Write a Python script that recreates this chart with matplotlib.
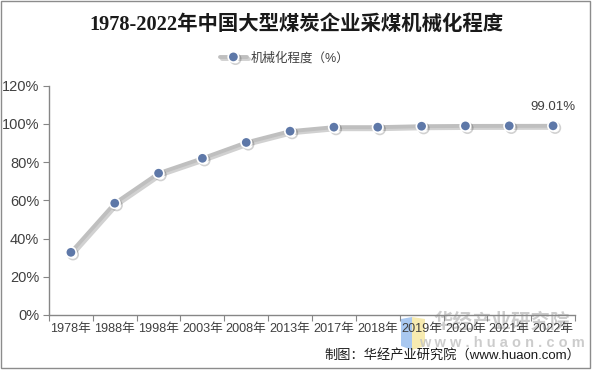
import matplotlib
matplotlib.use("Agg")
import matplotlib.pyplot as plt
import matplotlib.patheffects as pe
from matplotlib.patches import Rectangle, Polygon

years = ["1978年", "1988年", "1998年", "2003年", "2008年", "2013年",
         "2017年", "2018年", "2019年", "2020年", "2021年", "2022年"]
values = [32.8, 58.5, 74.2, 82.0, 90.3, 96.2, 98.3, 98.3, 98.8, 98.95, 98.98, 99.01]
yticks = [0, 20, 40, 60, 80, 100, 120]
ytick_labels = ["0%", "20%", "40%", "60%", "80%", "100%", "120%"]

sans = ["Liberation Sans", "Noto Sans CJK SC", "DejaVu Sans"]
plt.rcParams["font.family"] = sans

W, H = 593, 372


def fx(px):
    return px / W


def fy(py):
    return 1 - py / H


fig = plt.figure(figsize=(W / 100, H / 100), dpi=100)
fig.patch.set_facecolor("white")
fig.patches.append(Rectangle((fx(1), fy(368)), fx(589), 367 / H,
                             transform=fig.transFigure, fill=False,
                             edgecolor="#8c8c8c", linewidth=1.0, zorder=-2))

# watermark logo (behind everything)
fig.patches.append(Polygon([(fx(401), fy(319)), (fx(412), fy(317)), (fx(412), fy(350)), (fx(401), fy(346))],
                           closed=True, transform=fig.transFigure,
                           facecolor="#a9c8f0", edgecolor="none", zorder=-1))
fig.patches.append(Polygon([(fx(412), fy(317)), (fx(425), fy(319)), (fx(425), fy(346)), (fx(412), fy(350))],
                           closed=True, transform=fig.transFigure,
                           facecolor="#f7ebb0", edgecolor="none", zorder=-1))
fig.text(fx(502), fy(322), "华经产业研究院", ha="center", va="center", fontsize=14,
         color="#c4c4c4", alpha=0.85, fontweight="bold", fontstyle="italic", zorder=-1)
fig.text(fx(502), fy(343), "w w w . h u a o n . c o m", ha="center", va="center", fontsize=10.5,
         color="#c4c4c4", alpha=0.85, fontweight="bold", zorder=-1)

ax = fig.add_axes([fx(49), fy(315), (575 - 49) / W, (315 - 85.7) / H])
ax.set_facecolor("none")
ax.set_zorder(1)
x = list(range(len(years)))
line, = ax.plot(x, values, color="#bfbfbf", linewidth=2.8, marker="o",
                markersize=7.5, markerfacecolor="#5e78a8", markeredgecolor="white",
                markeredgewidth=1.2, zorder=3, solid_capstyle="round",
                label="机械化程度（%）")
line.set_path_effects([pe.SimpleLineShadow(offset=(1.5, -1.5), shadow_color="#000000", alpha=0.18),
                       pe.Normal()])

ax.set_xlim(-0.5, len(years) - 0.5)
ax.set_ylim(0, 120)
ax.set_yticks(yticks)
ax.set_yticklabels(ytick_labels, fontsize=10.5, color="#404040")
ax.set_xticks([i - 0.5 for i in range(len(years) + 1)])
ax.set_xticklabels([])
ax.set_xticks(x, minor=True)
ax.set_xticklabels(years, minor=True, fontsize=9.1, color="#404040")
ax.tick_params(axis="x", which="minor", length=0, pad=6)
ax.tick_params(axis="x", which="major", length=4, color="#868686", direction="out")
ax.tick_params(axis="y", length=4, color="#868686", direction="out", pad=3)
for s in ["top", "right"]:
    ax.spines[s].set_visible(False)
for s in ["left", "bottom"]:
    ax.spines[s].set_color("#868686")
    ax.spines[s].set_linewidth(1.0)

ax.annotate("99.01%", (x[-1], values[-1]), xytext=(0, 9), textcoords="offset points",
            ha="center", va="bottom", fontsize=9.5, color="#404040")

fig.text(0.5, fy(25), "1978-2022年中国大型煤炭企业采煤机械化程度",
         ha="center", va="center", fontsize=14.7, fontweight="bold",
         family=["Liberation Serif", "Noto Sans CJK SC"], color="#1a1a1a")

leg = fig.legend(handles=[line], loc="center", bbox_to_anchor=(0.48, fy(58)),
                 frameon=False, fontsize=9, handlelength=2.2, handletextpad=0.3)
for t in leg.get_texts():
    t.set_color("#404040")

fig.text(fx(580), fy(355), "制图：华经产业研究院（www.huaon.com）", ha="right", va="center",
         fontsize=9.5, color="#1a1a1a")

fig.savefig("out.png", dpi=100, facecolor="white")
